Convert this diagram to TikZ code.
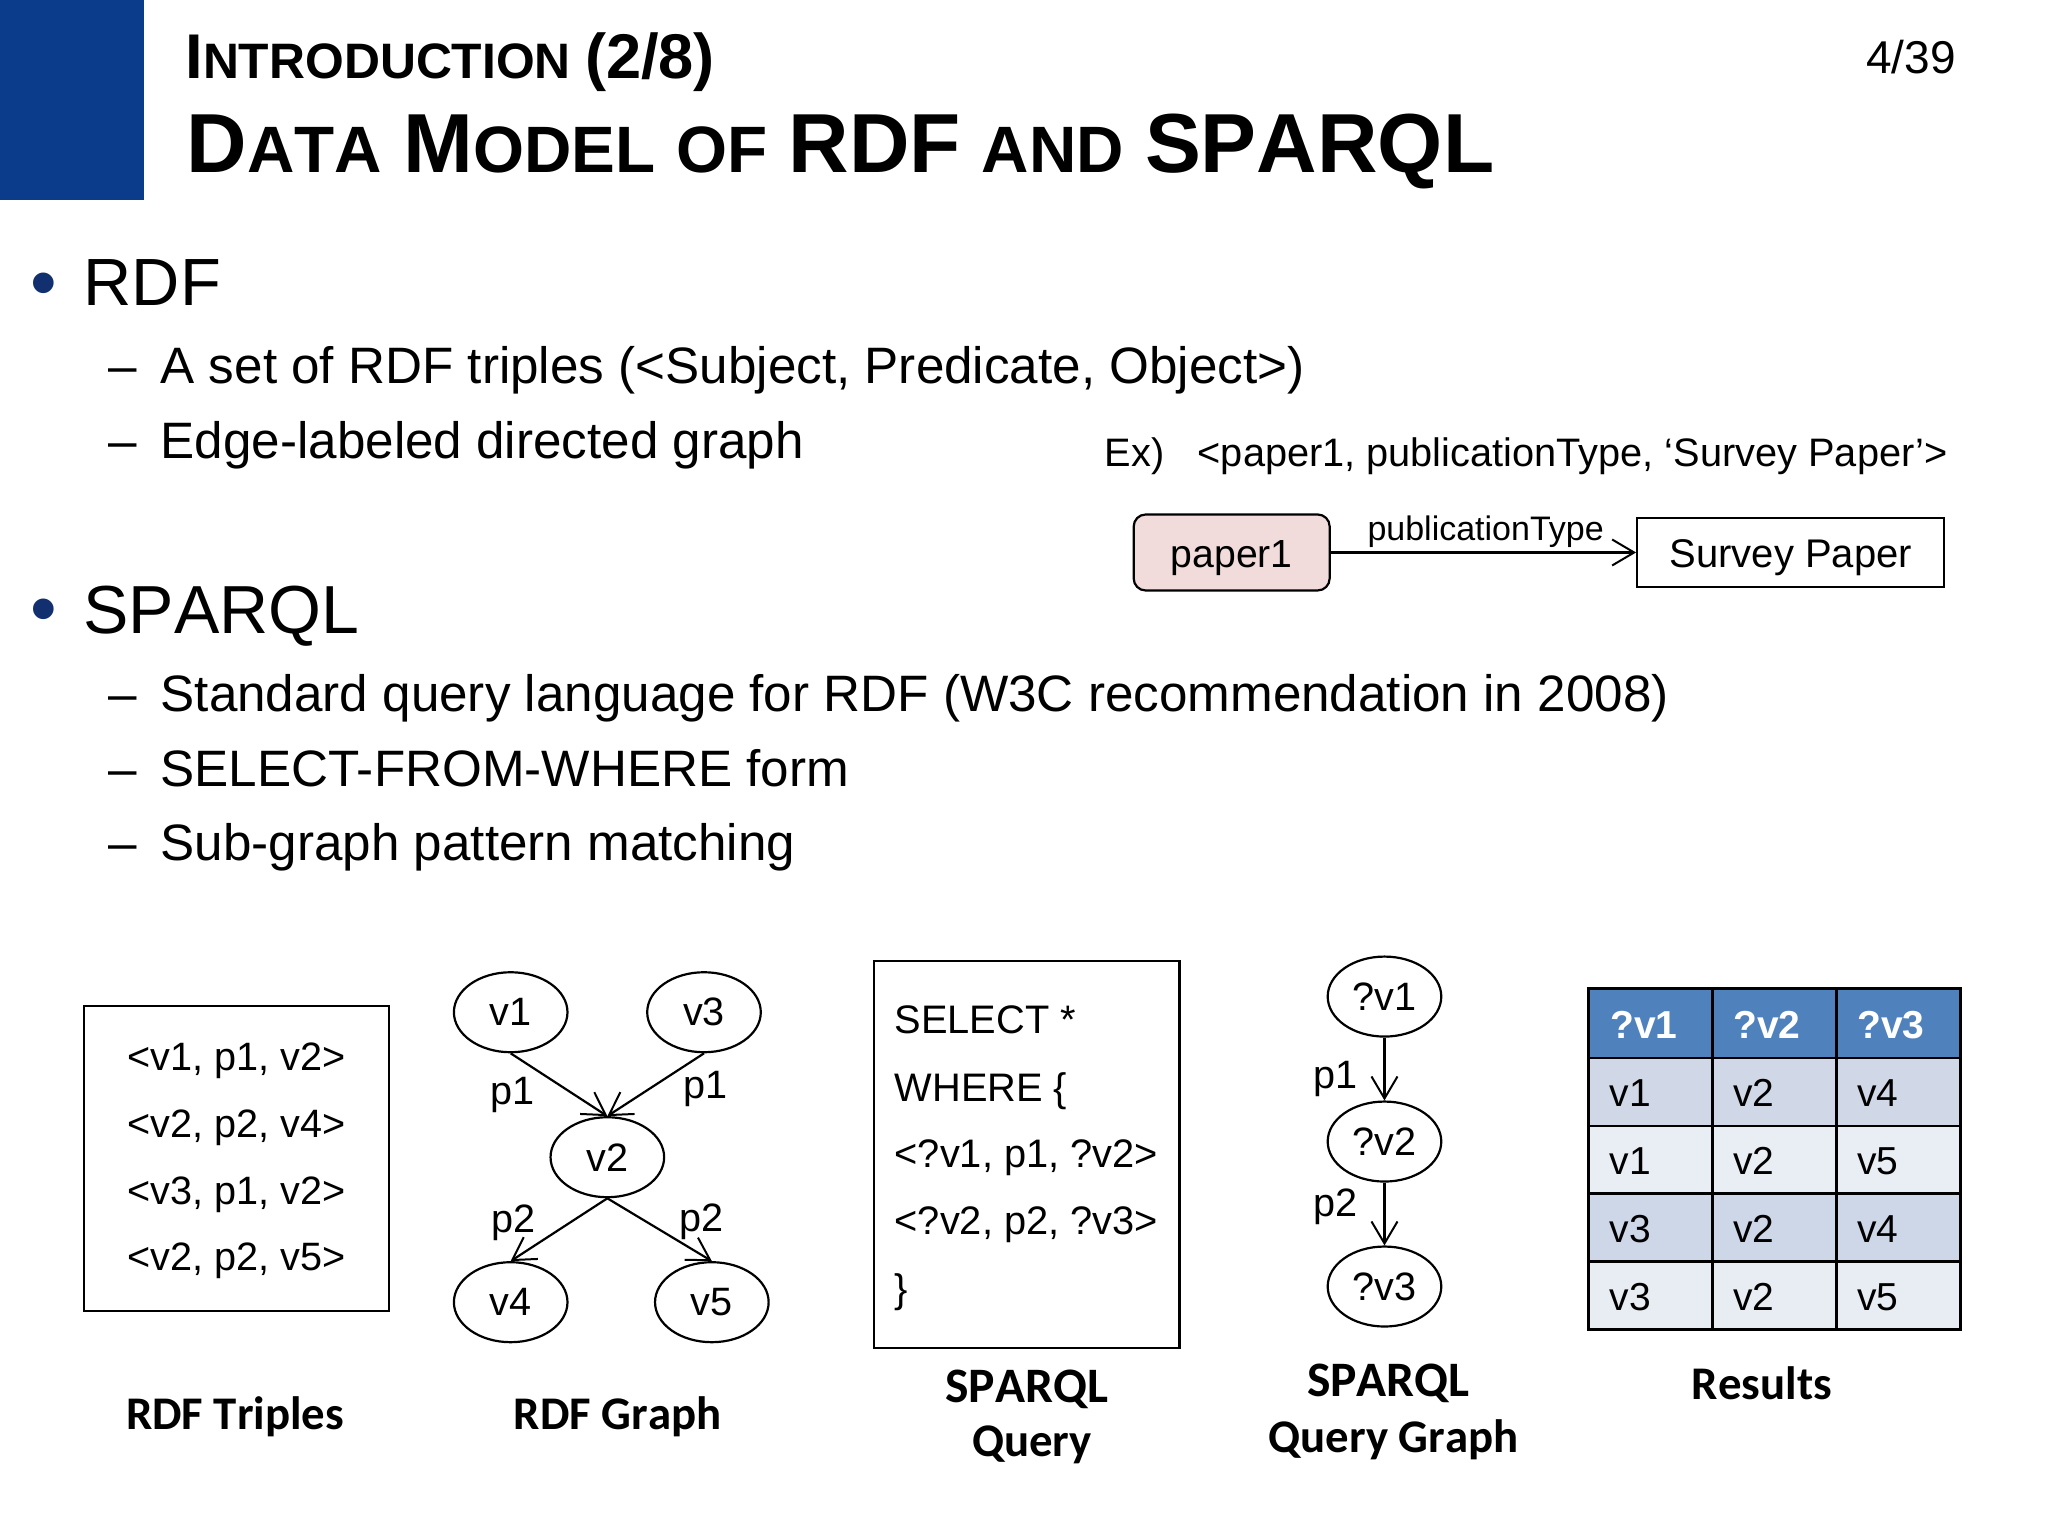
\documentclass[tikz,border=0pt]{standalone}
\usepackage{fontspec}
\setmainfont{Liberation Sans}
\newfontfamily\capfont[Kerning=Off]{Carlito}
\newfontfamily\nokern[Kerning=Off]{Liberation Sans}
\usetikzlibrary{arrows.meta,shapes.geometric}
\definecolor{slideblue}{HTML}{0B3C8C}
\definecolor{bulblue}{HTML}{12306F}
\definecolor{hdrblue}{HTML}{4F81BD}
\definecolor{rowa}{HTML}{D0D8E8}
\definecolor{rowb}{HTML}{E9EDF4}
\definecolor{rowc}{HTML}{CDD7E8}
\definecolor{rowd}{HTML}{E8EDF4}
\definecolor{pink}{HTML}{F2DCDB}
\newcommand\fsz[1]{\fontsize{#1pt}{#1pt}\selectfont}
\newcommand\capsA[1]{{\fsz{31.6}#1}}
\newcommand\capsB[1]{{\fsz{24.9}#1}}
\newcommand\capsC[1]{{\fsz{41.9}#1}}
\newcommand\capsD[1]{{\fsz{32.8}#1}}
\tikzset{
  txt/.style={anchor=base west,inner sep=0pt,outer sep=0pt,text=black},
  headtxt/.style={txt,font=\fsz{33.4}},
  subtxt/.style={txt,font=\fsz{25.6}},
  bul/.style={txt,font=\fsz{38},text=bulblue},
  lab/.style={inner sep=0pt,font=\fsz{19.8}},
  edgelab/.style={inner sep=0pt,font=\fsz{19.8}},
  vert/.style={ellipse,draw=black,line width=1.1pt,minimum width=56.8pt,minimum height=40pt,inner sep=0pt,font=\fsz{19.8}},
  thinbox/.style={draw=black,line width=1.1pt,inner sep=0pt},
  arr/.style={line width=1.1pt,-{Straight Barb[length=11pt,width=13pt,line width=1pt]}},
  capt/.style={inner sep=0pt,font=\capfont\bfseries\fsz{23.4}},
  captwide/.style={inner sep=0pt,font=\capfont\bfseries\fsz{24.8}},
  cell/.style={line width=1.3pt,draw=black},
  celltxt/.style={txt,font=\fsz{19.5}},
  hcelltxt/.style={txt,font=\bfseries\fsz{19.5},text=white},
}
\begin{document}
\begin{tikzpicture}[x=0.6531pt,y=-0.6531pt]
\useasboundingbox (0,0) rectangle (1568,1176);
\fill[slideblue] (0,0) rectangle (110,153);
% title
\node[txt] (t1) at (142,60) {\nokern\bfseries\fsz{25.5}\capsA{I}\capsB{NTRODUCTION} \capsA{(2/8)}};
\node[txt] (t2) at (143,132) {\nokern\bfseries\fsz{38}\capsC{D}\capsD{ATA} \capsC{M}\capsD{ODEL} \capsD{OF} \capsC{RDF} \capsD{AND} \capsC{SPARQL}};
\node[txt,anchor=base east,font=\fsz{23}] (pg) at (1497.5,56) {4/39};
% bullets
\node[bul] (b1) at (23.5,236) {•};
\node[headtxt] (rdf) at (64,234) {RDF};
\node[subtxt] (d1) at (83,294) {–};
\node[subtxt] (s1) at (123,294) {A set of RDF triples (<Subject, Predicate, Object>)};
\node[subtxt] (d2) at (83,351) {–};
\node[subtxt] (s2) at (123,351) {Edge-labeled directed graph};
\node[bul] (b2) at (23.5,486) {•};
\node[headtxt,font=\nokern\fsz{34}] (spq) at (64,485) {SPARQL};
\node[subtxt] (d3) at (83,545) {–};
\node[subtxt] (s3) at (123,545) {Standard query language for RDF (W3C recommendation in 2008)};
\node[subtxt] (d4) at (83,602) {–};
\node[subtxt] (s4) at (123,602) {SELECT-FROM-WHERE form};
\node[subtxt] (d5) at (83,659) {–};
\node[subtxt] (s5) at (123,659) {Sub-graph pattern matching};
% example
\node[txt,font=\fsz{19.87}] (ex) at (846,357) {Ex)};
\node[txt,font=\fsz{19.87}] (ext) at (917,357) {<paper1, publicationType, ‘Survey Paper’>};
\node[draw=black,fill=pink,line width=1.1pt,rounded corners=6pt,minimum width=98pt,minimum height=38pt,inner sep=0pt,font=\fsz{19.6},text height=15pt,text depth=0pt] (paper) at (943,423) {paper1};
\node[thinbox,minimum width=153.5pt,minimum height=34.6pt,font=\fsz{20},text height=15pt,text depth=0pt] (survey) at (1371,423) {Survey Paper};
\draw[arr] (paper.east) -- (survey.west);
\node[txt,font=\fsz{17}] (pt) at (1047,414) {publicationType};
% triples
\node[thinbox,minimum width=152.8pt,minimum height=152.8pt] (triples) at (181,887) {};
\node[lab] (t1a) at (181,812) {<v1, p1, v2>};
\node[lab] (t1b) at (181,863.5) {<v2, p2, v4>};
\node[lab] (t1c) at (181,914.5) {<v3, p1, v2>};
\node[lab] (t1d) at (181,965.5) {<v2, p2, v5>};
% graph
\node[vert] (v1) at (391,775) {v1};
\node[vert] (v3) at (539,775) {v3};
\node[vert] (v2) at (465,886) {v2};
\node[vert] (v4) at (391,997) {v4};
\node[vert] (v5) at (545,997) {v5};
\draw[arr] (v1.south) -- (v2.north);
\draw[arr] (v3.south) -- (v2.north);
\draw[arr] (v2.south) -- (v4.north);
\draw[arr] (v2.south) -- (v5.north);
\node[edgelab] (e1) at (392.5,838) {p1};
\node[edgelab] (e2) at (540,834) {p1};
\node[edgelab] (e3) at (393,936.5) {p2};
\node[edgelab] (e4) at (537,935.5) {p2};
% query
\node[thinbox,minimum width=152.8pt,minimum height=193.3pt] (query) at (786,884) {};
\node[txt,font=\fsz{19.9}] (q1) at (685,791) {SELECT *};
\node[txt,font=\fsz{19.9}] (q2) at (685,843) {WHERE \{};
\node[txt,font=\fsz{19.9}] (q3) at (685,894) {<?v1, p1, ?v2>};
\node[txt,font=\fsz{19.9}] (q4) at (685,945) {<?v2, p2, ?v3>};
\node[txt,font=\fsz{19.9}] (q5) at (685,997) {\}};
% query graph
\node[vert] (q1n) at (1060,763) {?v1};
\node[vert] (q2n) at (1060,874) {?v2};
\node[vert] (q3n) at (1060,985) {?v3};
\draw[arr] (q1n.south) -- (q2n.north);
\draw[arr] (q2n.south) -- (q3n.north);
\node[edgelab] (e5) at (1022.5,826) {p1};
\node[edgelab] (e6) at (1022.5,924) {p2};
% table
\fill[hdrblue] (1216,757) rectangle (1501,810);
\fill[rowa] (1216,810) rectangle (1501,862);
\fill[rowb] (1216,862) rectangle (1501,914);
\fill[rowc] (1216,914) rectangle (1501,966);
\fill[rowd] (1216,966) rectangle (1501,1018);
\draw[cell] (1216,757) rectangle (1501,1018);
\foreach \yy in {810,862,914,966} \draw[cell] (1216,\yy) -- (1501,\yy);
\foreach \xx in {1311,1406} \draw[cell] (\xx,757) -- (\xx,1018);
\node[hcelltxt] (h1) at (1233,795) {?v1};
\node[hcelltxt] (h2) at (1327,795) {?v2};
\node[hcelltxt] (h3) at (1422,795) {?v3};
\node[celltxt] (c11) at (1232.5,847) {v1};
\node[celltxt] (c12) at (1327,847) {v2};
\node[celltxt] (c13) at (1422,847) {v4};
\node[celltxt] (c21) at (1232.5,899) {v1};
\node[celltxt] (c22) at (1327,899) {v2};
\node[celltxt] (c23) at (1422,899) {v5};
\node[celltxt] (c31) at (1232.5,951) {v3};
\node[celltxt] (c32) at (1327,951) {v2};
\node[celltxt] (c33) at (1422,951) {v4};
\node[celltxt] (c41) at (1232.5,1003.5) {v3};
\node[celltxt] (c42) at (1327,1003.5) {v2};
\node[celltxt] (c43) at (1422,1003.5) {v5};
% captions
\node[capt] (c1) at (180,1085) {RDF Triples};
\node[capt] (c2) at (473,1085) {RDF Graph};
\node[captwide] (c3) at (786,1063.5) {SPARQL};
\node[capt] (c3b) at (790,1106) {Query};
\node[captwide] (c4) at (1063,1059.5) {SPARQL};
\node[capt] (c4b) at (1067,1102) {Query Graph};
\node[capt] (c5) at (1349,1059) {Results};
\end{tikzpicture}
\end{document}
